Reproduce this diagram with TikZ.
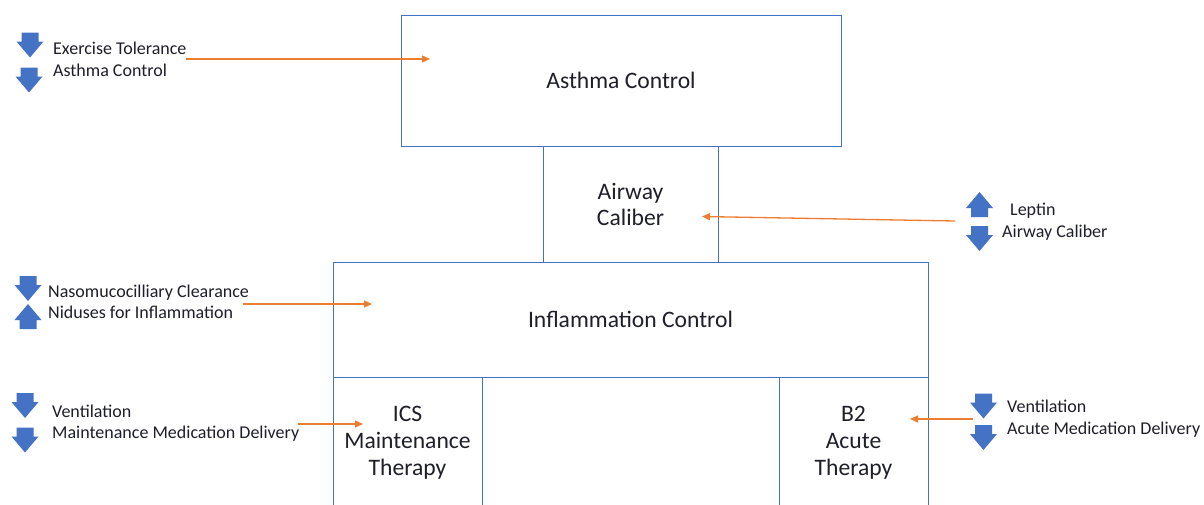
\documentclass[tikz,border=0pt]{standalone}
\usepackage{fontspec}
\setmainfont{Carlito}
\usetikzlibrary{arrows.meta}
\definecolor{boxblue}{HTML}{4472C4}
\definecolor{arrorange}{HTML}{ED7D31}
\definecolor{blkblue}{HTML}{4472C4}
\definecolor{txt}{HTML}{1F1F2A}
\tikzset{
  box/.style={draw=boxblue, line width=0.9pt, rectangle, inner sep=0pt, align=center, text=txt, font=\fontsize{23.6}{27}\selectfont},
  lbl/.style={anchor=base west, inner sep=0pt, text=txt, font=\fontsize{18}{21}\selectfont},
  conn/.style={draw=arrorange, line width=1.3pt, -{Triangle[length=8pt,width=7pt]}},
  pics/dnarrow/.style={code={\fill[blkblue] (-8.5,-12.5) -- (8.5,-12.5) -- (8.5,-3.5) -- (13.5,-3.5) -- (0,12.5) -- (-13.5,-3.5) -- (-8.5,-3.5) -- cycle;}},
  pics/uparrow/.style={code={\fill[blkblue] (-8.5,12.5) -- (8.5,12.5) -- (8.5,3.5) -- (13.5,3.5) -- (0,-12.5) -- (-13.5,3.5) -- (-8.5,3.5) -- cycle;}},
}
\begin{document}
\begin{tikzpicture}[x=1pt,y=-1pt]
\fill[white] (0,0) rectangle (1204,504);
\useasboundingbox (0,0) rectangle (1204,504);
\clip (0,0) rectangle (1204,504);

% boxes
\node[box, minimum width=440, minimum height=131] (ac) at (621,80.5) {Asthma Control};
\node[box, minimum width=175, minimum height=116, font=\fontsize{23.6}{26}\selectfont] (aw) at (630.5,204) {Airway\\Caliber};
\node[box, minimum width=595, minimum height=115] (ic) at (630.5,319.5) {Inflammation Control};
\node[box, minimum width=149, minimum height=132] (ics) at (407.5,443) {ICS\\Maintenance\\Therapy};
\node[box, minimum width=149, minimum height=132] (b2) at (853.5,443) {B2\\Acute\\Therapy};

% side labels
\node[lbl] (l1a) at (53,54) {Exercise Tolerance};
\node[lbl] (l1b) at (53,76) {Asthma Control};
\node[lbl] (l2a) at (1010,215) {Leptin};
\node[lbl] (l2b) at (1002,237) {Airway Caliber};
\node[lbl] (l3a) at (48,297) {Nasomucocilliary Clearance};
\node[lbl] (l3b) at (48,318) {Niduses for Inflammation};
\node[lbl] (l4a) at (52,417) {Ventilation};
\node[lbl] (l4b) at (52,438) {Maintenance Medication Delivery};
\node[lbl] (l5a) at (1007,412) {Ventilation};
\node[lbl] (l5b) at (1007,434) {Acute Medication Delivery};

% block arrows
\pic at (30,45) {dnarrow};
\pic at (29,80) {dnarrow};
\pic at (979.5,204.5) {uparrow};
\pic at (979.5,238.5) {dnarrow};
\pic at (28,288.5) {dnarrow};
\pic at (28,316.5) {uparrow};
\pic at (25,405.5) {dnarrow};
\pic at (25,440) {dnarrow};
\pic at (983.5,406) {dnarrow};
\pic at (983.5,437.5) {dnarrow};

% connectors
\coordinate (c1s) at (186,59);  \coordinate (c1e) at (430,59);
\coordinate (c2s) at (955,221); \coordinate (c2e) at (702,216.5);
\coordinate (c3s) at (243,304); \coordinate (c3e) at (372,304);
\coordinate (c4s) at (298,424); \coordinate (c4e) at (363,424);
\coordinate (c5s) at (973,419); \coordinate (c5e) at (910,419);
\draw[conn] (c1s) -- (c1e);
\draw[conn] (c2s) -- (c2e);
\draw[conn] (c3s) -- (c3e);
\draw[conn] (c4s) -- (c4e);
\draw[conn] (c5s) -- (c5e);
\end{tikzpicture}
\end{document}
